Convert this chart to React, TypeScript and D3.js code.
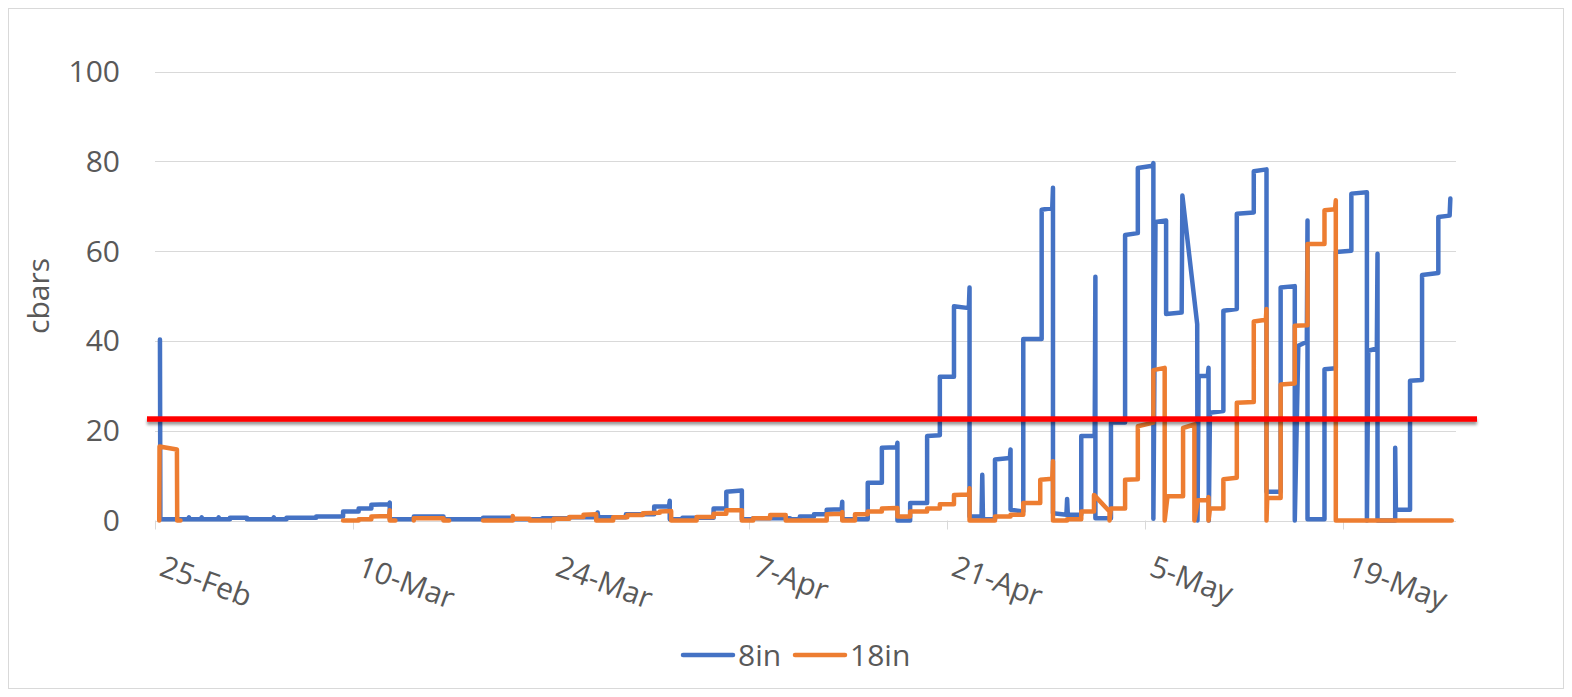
import React from "react";
import * as d3 from "d3";

// Soil moisture tension (cbars) at two depths, 25-Feb to late May 2020.
// Each point is [days since 25-Feb 00:00, cbars]; a null value breaks the line.
type Pt = [number, number | null];

const START = Date.UTC(2020, 1, 25);
const DAY = 864e5;
const DOMAIN_DAYS = 92;

const tickDates = ["2020-02-25", "2020-03-10", "2020-03-24", "2020-04-07", "2020-04-21", "2020-05-05", "2020-05-19"];
const yTicks = [0, 20, 40, 60, 80, 100];
const thresholdCbars = 22.6;
const seriesNames = ["8in", "18in"];

const series8in: Pt[] = [
  [0.35, 40.3], [0.38, 0.3],
  [2.35, 0.3], [2.4, 0.7], [2.45, 0.3],
  [3.25, 0.3], [3.3, 0.7], [3.35, 0.3],
  [4.45, 0.3], [4.5, 0.7], [4.55, 0.3],
  [5.3, 0.3], [5.3, 0.6], [6.5, 0.6], [6.5, 0.3],
  [8.35, 0.3], [8.4, 0.7], [8.45, 0.3],
  [9.3, 0.3], [9.3, 0.6], [11.4, 0.6], [11.4, 0.9], [13.3, 0.9], [13.3, 2.0], [14.4, 2.0],
  [14.4, 2.7], [15.3, 2.7], [15.3, 3.5], [16.55, 3.6], [16.6, 4.0], [16.6, 0.3],
  [18.3, 0.3], [18.3, 0.9], [20.4, 0.9], [20.4, 0.3],
  [23.2, 0.3], [23.2, 0.6], [25.3, 0.6], [25.3, 0.3], [27.4, 0.3], [27.4, 0.5], [29.3, 0.5],
  [29.3, 0.7], [31.25, 0.7], [31.3, 1.8], [31.35, 0.7], [33.3, 0.7], [33.3, 1.4], [35.3, 1.4],
  [35.3, 3.1], [36.35, 3.2], [36.4, 4.4], [36.4, 0.3], [37.3, 0.3], [37.3, 0.6], [39.5, 0.6],
  [39.5, 2.7], [40.4, 2.7], [40.4, 6.4], [41.5, 6.7], [41.5, 0.3], [42.3, 0.3], [42.3, 0.5],
  [44.9, 0.5], [44.9, 0.3], [45.6, 0.3], [45.6, 0.9], [46.6, 0.9], [46.6, 1.4], [47.5, 1.4],
  [47.5, 2.4], [48.55, 2.5], [48.6, 4.2], [48.6, 0.3], [50.4, 0.3], [50.4, 8.4], [51.4, 8.4],
  [51.4, 16.2], [52.45, 16.3], [52.5, 17.3], [52.5, 0], [53.4, 0], [53.4, 3.9], [54.6, 3.9],
  [54.6, 18.8], [55.5, 19.0], [55.5, 32.0], [56.5, 32.0], [56.5, 47.7], [57.55, 47.3],
  [57.6, 51.9], [57.6, 0.9], [58.45, 0.9], [58.5, 10.2], [58.55, 0.3], [59.4, 0.3],
  [59.4, 13.6], [60.45, 13.9], [60.5, 15.8], [60.5, 2.4], [61.4, 2.0], [61.4, 40.4],
  [62.7, 40.4], [62.7, 69.2], [63.45, 69.6], [63.5, 74.1], [63.5, 1.6], [64.45, 1.3],
  [64.5, 4.8], [64.55, 1.3], [65.5, 1.3], [65.5, 18.8], [66.45, 18.8], [66.5, 54.3],
  [66.5, 0.5], [67.6, 0.5], [67.6, 21.8], [68.6, 21.8], [68.6, 63.6], [69.5, 64.0],
  [69.5, 78.5], [70.55, 79.0], [70.6, 79.6], [70.6, 0.4], [70.75, 66.5], [71.5, 66.8],
  [71.5, 46.0], [72.6, 46.3], [72.65, 72.4], [73.7, 43.7], [73.72, 0], [73.8, 32.2],
  [74.45, 32.2], [74.5, 34.0], [74.52, 0], [74.6, 24.0], [75.55, 24.4], [75.55, 46.7],
  [76.5, 47.1], [76.5, 68.3], [77.7, 68.6], [77.7, 77.8], [78.6, 78.2], [78.6, 6.4],
  [79.6, 6.4], [79.6, 51.9], [80.6, 52.2], [80.6, 0], [80.85, 38.9], [81.45, 39.8],
  [81.5, 66.8], [81.5, 0.3], [82.7, 0.3], [82.7, 33.7], [83.5, 33.9], [83.5, 59.8],
  [84.6, 60.1], [84.6, 72.8], [85.7, 73.1], [85.7, 0], [85.8, 37.8], [86.4, 38.3],
  [86.45, 59.4], [86.45, 0], [87.7, 0], [87.7, 16.2], [87.75, 2.4], [88.75, 2.4],
  [88.75, 31.1], [89.6, 31.3], [89.6, 54.7], [90.75, 55.1], [90.75, 67.6], [91.55, 67.9],
  [91.6, 71.7],
];

const series18in: Pt[] = [
  [0.3, 0], [0.32, 16.5], [1.55, 15.8], [1.57, 0], [1.8, 0], [1.8, null],
  [13.3, 0], [14.4, 0], [14.4, 0.3], [15.3, 0.3], [15.3, 0.9], [16.55, 1.0], [16.6, 2.3],
  [16.6, 0], [17.0, 0], [17.0, null],
  [18.3, 0], [18.3, 0.5], [20.4, 0.5], [20.4, 0], [20.8, 0], [20.8, null],
  [23.2, 0], [25.3, 0], [25.3, 1.0], [25.35, 0.4], [26.5, 0.4], [26.5, 0], [28.2, 0],
  [28.2, 0.4], [29.3, 0.4], [29.3, 0.8], [30.3, 0.8], [30.3, 1.3], [31.2, 1.4], [31.2, 0],
  [32.4, 0], [32.4, 0.7], [33.4, 0.7], [33.4, 1.2], [34.5, 1.2], [34.5, 1.6], [35.7, 1.7],
  [35.7, 2.0], [36.5, 2.1], [36.5, 0], [38.3, 0], [38.3, 0.8], [39.5, 0.8], [39.5, 1.5],
  [40.4, 1.5], [40.4, 2.3], [41.5, 2.3], [41.5, 0], [42.3, 0], [42.3, 0.5], [43.5, 0.5],
  [43.5, 1.2], [44.6, 1.2], [44.6, 0], [47.5, 0], [47.5, 1.4], [48.55, 1.5], [48.6, 1.9],
  [48.6, 0], [49.5, 0], [49.5, 1.4], [50.4, 1.4], [50.4, 2.0], [51.4, 2.0], [51.4, 2.7],
  [52.5, 2.8], [52.5, 0.9], [53.4, 0.9], [53.4, 2.0], [54.6, 2.0], [54.6, 2.7], [55.5, 2.7],
  [55.5, 3.6], [56.5, 3.6], [56.5, 5.7], [57.55, 5.8], [57.6, 7.2], [57.6, 0], [59.4, 0],
  [59.4, 0.9], [60.5, 0.9], [60.5, 1.3], [61.4, 1.3], [61.4, 3.9], [62.6, 3.9], [62.6, 9.1],
  [63.45, 9.3], [63.5, 13.2], [63.5, 0], [64.5, 0], [64.5, 0.3], [65.5, 0.3], [65.5, 2.0],
  [66.4, 2.0], [66.4, 5.7], [67.5, 2.0], [67.5, 0], [67.6, 2.7], [68.6, 2.7], [68.6, 9.1],
  [69.5, 9.2], [69.5, 21.0], [70.6, 21.8], [70.6, 33.5], [71.4, 34.0], [71.4, 0],
  [71.6, 5.4], [72.7, 5.4], [72.7, 20.6], [73.5, 21.4], [73.5, 0], [73.75, 4.5],
  [74.45, 4.5], [74.5, 5.2], [74.5, 0], [74.6, 2.7], [75.55, 2.7], [75.55, 9.2],
  [76.5, 9.5], [76.5, 26.2], [77.7, 26.4], [77.7, 44.3], [78.55, 44.7], [78.6, 47.1],
  [78.6, 0], [78.65, 5.0], [79.6, 5.0], [79.6, 30.3], [80.6, 30.5], [80.6, 43.4],
  [81.5, 43.5], [81.5, 61.6], [82.7, 61.6], [82.7, 69.1], [83.45, 69.3], [83.5, 71.3],
  [83.5, 0], [91.7, 0],
];

const W = 1572;
const H = 697;
const FONT = "'Open Sans', 'Noto Sans', sans-serif";
const TEXT = "#595959";
const GRID = "#D9D9D9";
const COLORS = ["#4472C4", "#ED7D31"];

const x = d3
  .scaleUtc()
  .domain([new Date(START), new Date(START + DOMAIN_DAYS * DAY)])
  .range([155, 1456]);
const y = d3.scaleLinear().domain([0, 100]).range([520.5, 71.5]);

const dayToDate = (d: number) => new Date(START + d * DAY);
const fmt = d3.utcFormat("%-d-%b");
const parse = d3.utcParse("%Y-%m-%d");

const line = d3
  .line<Pt>()
  .defined((d) => d[1] !== null)
  .x((d) => x(dayToDate(d[0])))
  .y((d) => y(d[1] as number));

export default function App() {
  const [x0, x1] = x.range();
  const ticks = tickDates.map((s) => parse(s) as Date);
  const allSeries = [series8in, series18in];
  const legendX = [683, 795];
  const redY = y(thresholdCbars);

  return (
    <svg
      width={W}
      height={H}
      style={{ position: "absolute", left: 0, top: 0, background: "#fff" }}
      fontFamily={FONT}
    >
      <defs>
        <filter id="redShadow" filterUnits="userSpaceOnUse" x={0} y={redY - 20} width={W} height={40}>
          <feDropShadow dx="0" dy="3" stdDeviation="1.6" floodColor="#000" floodOpacity="0.4" />
        </filter>
      </defs>
      <rect x={8.5} y={8.5} width={1555} height={680} fill="#fff" stroke={GRID} strokeWidth={1} />

      {/* horizontal gridlines */}
      {yTicks.map((t) => (
        <line key={t} x1={x0} x2={x1} y1={Math.round(y(t)) + 0.5} y2={Math.round(y(t)) + 0.5} stroke={GRID} strokeWidth={1} />
      ))}
      {/* x-axis tick marks */}
      {ticks.map((t, i) => (
        <line key={i} x1={Math.round(x(t)) + 0.5} x2={Math.round(x(t)) + 0.5} y1={y(0)} y2={y(0) + 9} stroke={GRID} strokeWidth={1} />
      ))}

      {/* y tick labels */}
      {yTicks.map((t) => (
        <text key={t} x={120} y={y(t)} dy="0.35em" textAnchor="end" fontSize={30} fill={TEXT}>
          {t}
        </text>
      ))}
      <text transform={`translate(38,${(y(0) + y(100)) / 2}) rotate(-90)`} textAnchor="middle" dy="0.35em" fontSize={30} fill={TEXT}>
        cbars
      </text>

      {/* x tick labels */}
      {ticks.map((t, i) => (
        <text key={i} transform={`translate(${x(t) + 3},575) rotate(20)`} fontSize={30} fill={TEXT}>
          {fmt(t)}
        </text>
      ))}

      {/* series */}
      {allSeries.map((s, i) => (
        <path key={i} d={line(s) || ""} fill="none" stroke={COLORS[i]} strokeWidth={4.5} strokeLinejoin="round" strokeLinecap="round" />
      ))}

      {/* threshold line */}
      <rect
        x={x0 - 8}
        width={x1 + 21 - (x0 - 8)}
        y={redY - 2.75}
        height={5.5}
        fill="#FF0000"
        filter="url(#redShadow)"
      />

      {/* legend */}
      {seriesNames.map((n, i) => (
        <g key={n}>
          <line x1={legendX[i]} x2={legendX[i] + 50} y1={655} y2={655} stroke={COLORS[i]} strokeWidth={4.5} strokeLinecap="round" />
          <text x={legendX[i] + 55} y={655} dy="0.35em" fontSize={30} fill={TEXT}>
            {n}
          </text>
        </g>
      ))}
    </svg>
  );
}
